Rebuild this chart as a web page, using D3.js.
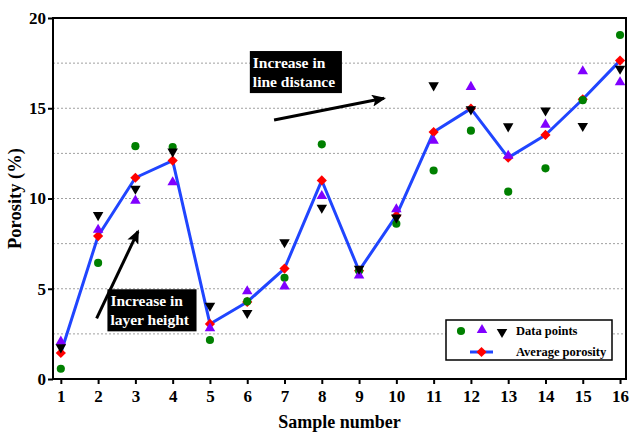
<!DOCTYPE html>
<html>
<head>
<meta charset="utf-8">
<script src="https://cdn.jsdelivr.net/npm/d3@7"></script>
<style>
  body { margin: 0; background: #fff; }
  svg { display: block; }
  svg text { font-family: "Liberation Serif", "Times New Roman", serif; font-weight: bold; }
</style>
</head>
<body>
<div id="chart"></div>
<script>
// sample numbers on the x axis
var samples = [1, 2, 3, 4, 5, 6, 7, 8, 9, 10, 11, 12, 13, 14, 15, 16];
// three measurements per sample (circle, up triangle, down triangle)
var pointsA = [0.57, 6.43, 12.9, 12.85, 2.16, 4.3, 5.61, 13.0, 6.0, 8.6, 11.55, 13.76, 10.38, 11.67, 15.45, 19.06];
var pointsB = [2.07, 8.27, 9.88, 10.9, 2.81, 4.86, 5.13, 10.14, 5.74, 9.4, 13.2, 16.18, 12.37, 14.09, 17.05, 16.44];
var pointsC = [1.75, 9.08, 10.54, 12.6, 4.06, 3.66, 7.58, 9.49, 6.11, 8.94, 16.27, 14.94, 14.0, 14.88, 14.02, 17.19];
// average porosity
var average = [1.44, 7.92, 11.15, 12.1, 3.05, 4.27, 6.12, 11.0, 6.0, 9.05, 13.68, 14.98, 12.26, 13.52, 15.5, 17.64];

var yTicks = [0, 5, 10, 15, 20];
var yGrid = [2.5, 5, 7.5, 10, 12.5, 15, 17.5];

// annotations, positioned in data units
var notes = [
	{lines: ['Increase in', 'line distance'], box: [6.07, 18.17, 8.54, 15.84], arrow: [6.72, 14.35, 9.67, 15.55]},
	{lines: ['Increase in', 'layer height'], box: [2.25, 4.97, 4.64, 2.64], arrow: [1.96, 3.36, 3.07, 8.18]}
];

var W = 630, H = 434;
var margin = {top: 18, right: 4, bottom: 55, left: 53};
var serif = '"Liberation Serif", "Times New Roman", serif';

var svg = d3.select('#chart').append('svg')
	.attr('width', W)
	.attr('height', H);

var x = d3.scaleLinear().domain([0.79, 16.16]).range([margin.left, W - margin.right]);
var y = d3.scaleLinear().domain([0, 20]).range([H - margin.bottom, margin.top]);

// dotted grid
svg.append('g')
	.selectAll('line')
	.data(yGrid)
	.enter()
	.append('line')
	.attr('x1', x.range()[0]).attr('x2', x.range()[1])
	.attr('y1', function(d) { return y(d); })
	.attr('y2', function(d) { return y(d); })
	.attr('stroke', '#a0a0a0')
	.attr('stroke-width', 1)
	.attr('stroke-dasharray', '2,2');

// axes
var xAxis = svg.append('g')
	.attr('transform', 'translate(0,' + y(0) + ')')
	.call(d3.axisBottom(x).tickValues(samples).tickSize(5).tickPadding(6).tickSizeOuter(0));
var yAxis = svg.append('g')
	.attr('transform', 'translate(' + x.range()[0] + ',0)')
	.call(d3.axisLeft(y).tickValues(yTicks).tickSize(5).tickPadding(2).tickSizeOuter(0));

[xAxis, yAxis].forEach(function(g) {
	g.attr('font-family', serif);
	g.select('.domain').remove();
	g.selectAll('.tick line').attr('stroke', '#000').attr('stroke-width', 2);
	g.selectAll('.tick text')
		.attr('fill', '#000')
		.style('font-family', serif)
		.style('font-weight', 'bold')
		.style('font-size', '17px');
});

// frame
svg.append('rect')
	.attr('x', x.range()[0]).attr('y', y.range()[1])
	.attr('width', x.range()[1] - x.range()[0])
	.attr('height', y.range()[0] - y.range()[1])
	.attr('fill', 'none')
	.attr('stroke', '#000')
	.attr('stroke-width', 2);

// axis titles
svg.append('text')
	.attr('x', (x.range()[0] + x.range()[1]) / 2)
	.attr('y', H - 6)
	.attr('text-anchor', 'middle')
	.style('font-size', '18px')
	.text('Sample number');
svg.append('text')
	.attr('transform', 'translate(21,' + ((y.range()[0] + y.range()[1]) / 2) + ') rotate(-90)')
	.attr('text-anchor', 'middle')
	.style('font-size', '18.5px')
	.text('Porosity (%)');

// arrow head
svg.append('defs').append('marker')
	.attr('id', 'head')
	.attr('markerUnits', 'userSpaceOnUse')
	.attr('viewBox', '0 0 14 12')
	.attr('refX', 12).attr('refY', 6)
	.attr('markerWidth', 14).attr('markerHeight', 12)
	.attr('orient', 'auto')
	.append('path')
	.attr('d', 'M0,0 L14,6 L0,12 L3,6 Z')
	.attr('fill', '#000');

var ann = svg.append('g').selectAll('g').data(notes).enter().append('g');
ann.append('line')
	.attr('x1', function(d) { return x(d.arrow[0]); })
	.attr('y1', function(d) { return y(d.arrow[1]); })
	.attr('x2', function(d) { return x(d.arrow[2]); })
	.attr('y2', function(d) { return y(d.arrow[3]); })
	.attr('stroke', '#000')
	.attr('stroke-width', 3)
	.attr('marker-end', 'url(#head)');
ann.append('rect')
	.attr('x', function(d) { return x(d.box[0]); })
	.attr('y', function(d) { return y(d.box[1]); })
	.attr('width', function(d) { return x(d.box[2]) - x(d.box[0]); })
	.attr('height', function(d) { return y(d.box[3]) - y(d.box[1]); })
	.attr('fill', '#000');
ann.each(function(d) {
	var t = d3.select(this).append('text')
		.attr('fill', '#fff')
		.style('font-family', serif)
		.style('font-weight', 'bold')
		.style('font-size', '15.5px');
	d.lines.forEach(function(s, i) {
		t.append('tspan')
			.attr('x', x(d.box[0]) + 3)
			.attr('y', y(d.box[1]) + 17 + i * 19)
			.text(s);
	});
});

// average line and diamonds
var line = d3.line()
	.x(function(d, i) { return x(samples[i]); })
	.y(function(d) { return y(d); });
svg.append('path')
	.datum(average)
	.attr('d', line)
	.attr('fill', 'none')
	.attr('stroke', '#2045ff')
	.attr('stroke-width', 3)
	.attr('stroke-linejoin', 'round');

var diamond = d3.symbol().type(d3.symbolSquare).size(52);
var circle = d3.symbol().type(d3.symbolCircle).size(52);
var tri = d3.symbol().type(d3.symbolTriangle).size(48);

function drawSeries(values, sym, color, rot) {
	svg.append('g')
		.selectAll('path')
		.data(values)
		.enter()
		.append('path')
		.attr('d', sym)
		.attr('fill', color)
		.attr('transform', function(d, i) {
			return 'translate(' + x(samples[i]) + ',' + y(d) + ') rotate(' + rot + ')';
		});
}
drawSeries(average, diamond, '#ff0000', 45);
drawSeries(pointsA, circle, '#008000', 0);
drawSeries(pointsB, tri, '#8000ff', 0);
drawSeries(pointsC, tri, '#000000', 180);

// legend
var lg = svg.append('g')
	.attr('transform', 'translate(' + (x.range()[1] - 180) + ',' + (y(0) - 59) + ')');
lg.append('rect')
	.attr('width', 166).attr('height', 40)
	.attr('fill', '#fff')
	.attr('stroke', '#000')
	.attr('stroke-width', 1.5);
lg.append('path').attr('d', circle).attr('fill', '#008000').attr('transform', 'translate(15,11)');
lg.append('path').attr('d', tri).attr('fill', '#8000ff').attr('transform', 'translate(36,10)');
lg.append('path').attr('d', tri).attr('fill', '#000').attr('transform', 'translate(56,12) rotate(180)');
lg.append('line')
	.attr('x1', 24).attr('x2', 47).attr('y1', 32).attr('y2', 32)
	.attr('stroke', '#2045ff').attr('stroke-width', 3);
lg.append('path').attr('d', diamond).attr('fill', '#ff0000').attr('transform', 'translate(35.5,32) rotate(45)');
lg.append('text').attr('x', 70).attr('y', 15).style('font-size', '12.5px').text('Data points');
lg.append('text').attr('x', 70).attr('y', 36).style('font-size', '12.5px').text('Average porosity');
</script>
</body>
</html>
